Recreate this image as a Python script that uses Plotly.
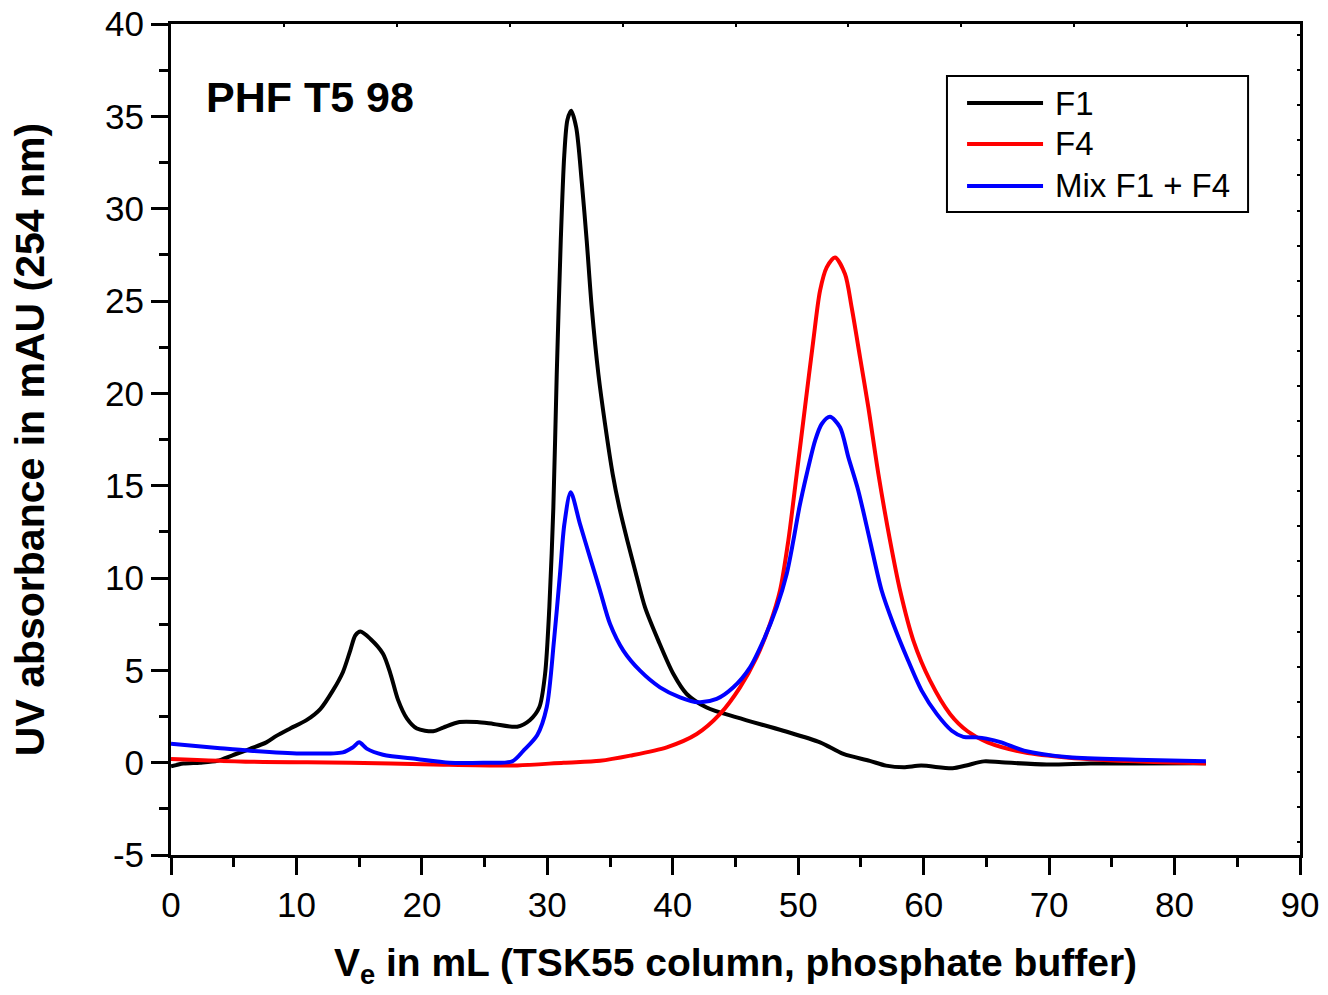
import plotly.graph_objects as go

# Elution profiles (V_e in mL, UV absorbance in mAU at 254 nm)
f1_ve = [0.0, 1.0, 2.3, 3.7, 4.9, 6.3, 7.6, 8.4, 9.5, 10.8, 11.9, 12.9, 13.7, 14.3, 14.7,
         15.1, 15.9, 16.9, 17.5, 18.1, 18.8, 19.6, 20.9, 21.7, 23.0, 24.4, 25.7, 27.6,
         28.6, 29.36, 29.82, 30.16, 30.48, 30.75, 31.07, 31.35, 31.6, 31.9, 32.3, 32.75,
         33.14, 33.54, 34.07, 34.6, 35.21, 35.74, 36.38, 37.07, 37.79, 38.85, 40.05, 41.11,
         42.7, 45.1, 48.81, 51.74, 53.6, 55.7, 57.0, 58.4, 59.8, 62.3, 63.4, 64.8,
         66.2, 69.8, 73.3, 76.9, 82.5]
f1_mau = [-0.2, -0.05, 0.0, 0.1, 0.4, 0.75, 1.1, 1.45, 1.85, 2.3, 2.9, 3.9, 4.9, 6.1, 6.9,
          7.1, 6.7, 5.9, 4.8, 3.4, 2.4, 1.85, 1.7, 1.9, 2.2, 2.2, 2.1, 1.95,
          2.3, 3.0, 4.8, 8.41, 13.82, 21.04, 28.26, 32.9, 34.8, 35.3, 34.4, 31.4,
          28.26, 24.65, 21.04, 18.34, 15.63, 13.82, 12.02, 10.22, 8.41, 6.61, 4.8, 3.72,
          2.99, 2.45, 1.73, 1.1, 0.47, 0.1, -0.16, -0.25, -0.16, -0.3, -0.15, 0.07,
          0.02, -0.1, -0.05, -0.05, -0.03]

f4_ve = [0.0, 6.3, 14.3, 20.9, 27.6, 31.3, 34.2, 36.6, 39.52, 41.91, 43.77, 45.36, 46.69,
         47.75, 48.55, 49.21, 49.88, 50.54, 51.2, 51.74, 52.27, 52.93, 53.73, 54.26, 54.93,
         55.59, 56.39, 57.32, 58.12, 59.18, 60.51, 62.1, 63.5, 65.1, 68.0, 71.6, 76.9, 82.5]
f4_mau = [0.2, 0.05, 0.0, -0.1, -0.15, 0.0, 0.1, 0.38, 0.83, 1.55, 2.64, 4.08, 5.71,
          7.51, 9.32, 12.02, 15.63, 19.24, 22.85, 25.56, 26.82, 27.36, 26.46, 24.65, 21.94,
          19.24, 15.63, 12.02, 9.32, 6.61, 4.44, 2.64, 1.7, 1.1, 0.56, 0.27, 0.07, -0.05]

mix_ve = [0.0, 3.7, 6.3, 10.3, 13.7, 14.5, 15.0, 15.6, 16.9, 19.6, 22.2, 24.9, 27.2, 28.1,
          29.2, 29.95, 30.53, 31.01, 31.36, 31.86, 32.6, 33.4, 34.2, 35.0, 36.06, 37.39,
          38.98, 40.58, 42.04, 43.5, 44.83, 46.16, 47.22, 48.28, 49.08, 49.61, 50.09, 50.68,
          51.34, 51.87, 52.53, 53.33, 54.0, 54.79, 55.72, 56.65, 57.58, 58.65, 59.84, 61.04,
          62.24, 63.16, 64.23, 65.0, 66.2, 68.0, 71.6, 76.9, 82.5]
mix_mau = [1.03, 0.8, 0.65, 0.5, 0.56, 0.83, 1.1, 0.76, 0.43, 0.2, 0.0, 0.0, 0.07, 0.65,
           1.5, 3.0, 6.61, 10.22, 12.93, 14.64, 12.93, 11.12, 9.32, 7.51, 6.07, 4.98,
           4.08, 3.54, 3.27, 3.45, 4.08, 5.16, 6.61, 8.41, 10.22, 12.02, 13.82, 15.63,
           17.43, 18.34, 18.73, 18.16, 16.53, 14.73, 12.02, 9.32, 7.51, 5.71, 3.9, 2.64,
           1.73, 1.4, 1.37, 1.3, 1.1, 0.65, 0.29, 0.16, 0.07]

series = [
    ("F1", f1_ve, f1_mau, "#000000"),
    ("F4", f4_ve, f4_mau, "#ff0000"),
    ("Mix F1 + F4", mix_ve, mix_mau, "#0000ff"),
]

x_ticks = [0, 10, 20, 30, 40, 50, 60, 70, 80, 90]
y_ticks = [-5, 0, 5, 10, 15, 20, 25, 30, 35, 40]

FONT = "Arial, Liberation Sans, sans-serif"

fig = go.Figure()
for name, xs, ys, color in series:
    fig.add_trace(go.Scatter(x=xs, y=ys, mode="lines", name=name,
                             line=dict(color=color, width=4, shape="spline", smoothing=0.8),
                             showlegend=False))

# invisible trace so the top/right frame axes get their fine ticks
fig.add_trace(go.Scatter(x=[0], y=[0], xaxis="x2", yaxis="y2", mode="markers",
                         marker=dict(opacity=0), showlegend=False, hoverinfo="skip"))

axis_common = dict(showgrid=False, zeroline=False, showline=True, linecolor="black",
                   linewidth=3, mirror=True, ticks="outside", ticklen=17, tickwidth=3,
                   tickcolor="black", automargin=False,
                   tickfont=dict(family=FONT, size=35, color="black"))

fig.update_layout(
    width=1328, height=995,
    margin=dict(l=171, r=28, t=24, b=140),
    paper_bgcolor="white", plot_bgcolor="white",
    xaxis=dict(range=[0, 90], tickvals=x_ticks, ticktext=[str(v) for v in x_ticks],
               minor=dict(dtick=5, ticks="outside", ticklen=9, tickwidth=3, tickcolor="black"),
               title=dict(text="V<sub>e</sub> in mL (TSK55 column, phosphate buffer)",
                          font=dict(family=FONT, size=39, color="black", weight="bold"),
                          standoff=26),
               **axis_common),
    yaxis=dict(range=[-5, 40], tickvals=y_ticks, ticktext=[str(v) for v in y_ticks],
               minor=dict(dtick=2.5, ticks="outside", ticklen=9, tickwidth=3, tickcolor="black"),
               title=dict(text="UV absorbance in mAU (254 nm)",
                          font=dict(family=FONT, size=41, color="black", weight="bold"),
                          standoff=48),
               **axis_common),
    xaxis2=dict(overlaying="x", side="top", range=[0, 90], dtick=9, ticks="inside",
                ticklen=3, tickwidth=2, tickcolor="black", showticklabels=False,
                showgrid=False, zeroline=False, showline=False),
    yaxis2=dict(overlaying="y", side="right", range=[-5, 40], tick0=-0.5, dtick=1.9,
                ticks="inside", ticklen=3, tickwidth=2, tickcolor="black",
                showticklabels=False, showgrid=False, zeroline=False, showline=False),
)

fig.add_annotation(x=2.6, y=36.05, xref="x", yref="y", text="<b>PHF T5 98</b>",
                   showarrow=False, xanchor="left", yanchor="middle",
                   font=dict(family=FONT, size=43, color="black"))

# legend box with line samples
lx0, lx1, ly0, ly1 = 0.6873, 0.9540, 0.7738, 0.9374
fig.add_shape(type="rect", xref="paper", yref="paper", x0=lx0, x1=lx1, y0=ly0, y1=ly1,
              line=dict(color="black", width=2), fillcolor="white", layer="above")
entry_y = [0.9049, 0.8556, 0.8051]
for (name, _, _, color), ey in zip(series, entry_y):
    fig.add_shape(type="line", xref="paper", yref="paper", x0=0.7051, x1=0.7724,
                  y0=ey, y1=ey, line=dict(color=color, width=4), layer="above")
    fig.add_annotation(x=0.7812, y=ey, xref="paper", yref="paper", text=name,
                       showarrow=False, xanchor="left", yanchor="middle",
                       font=dict(family=FONT, size=33, color="black"))

fig.write_html("out.html")
